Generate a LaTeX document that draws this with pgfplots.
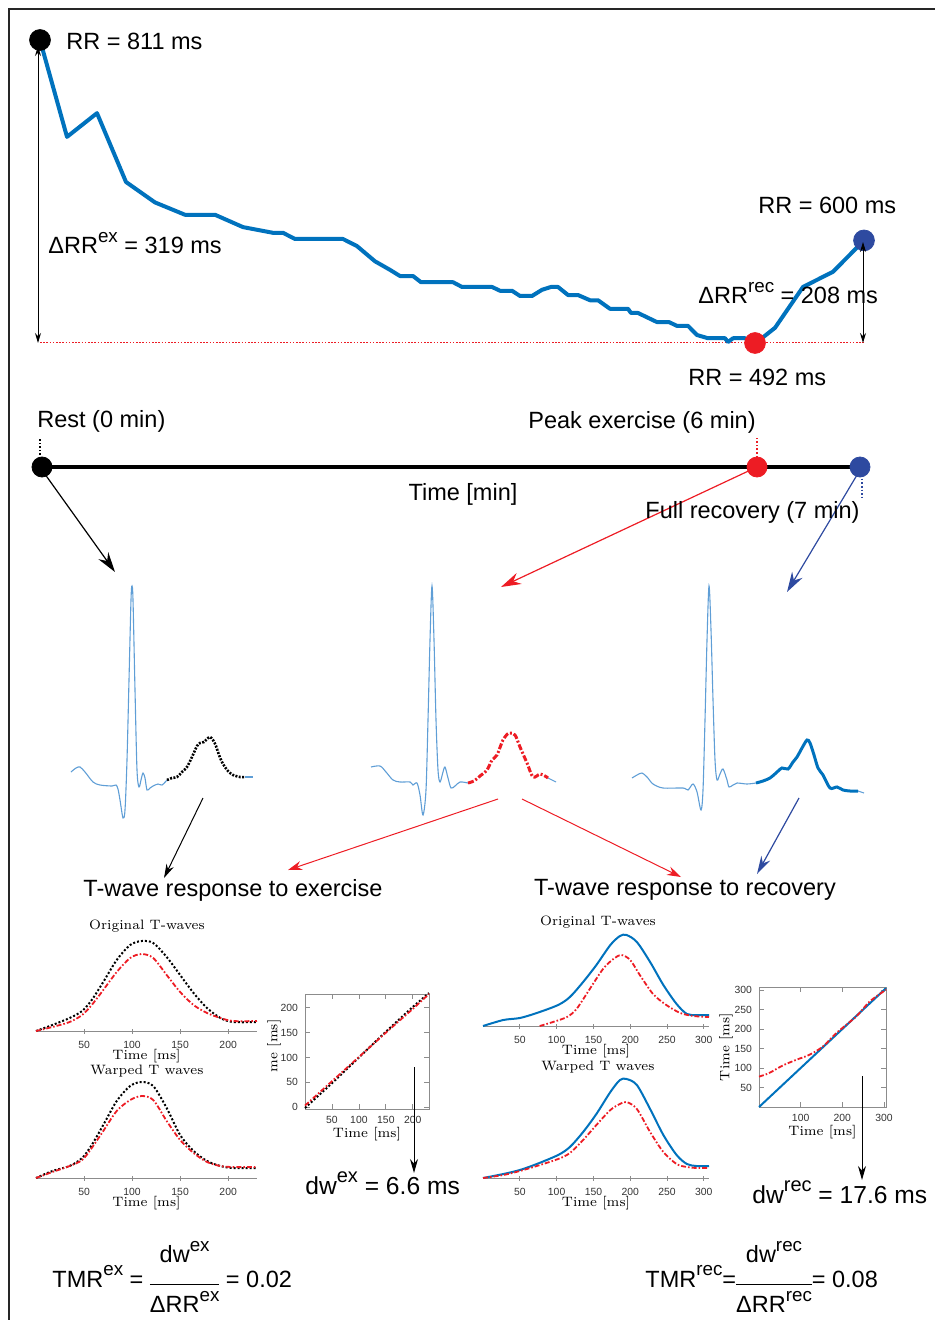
\documentclass[border=0pt]{standalone}
\usepackage{fontspec}
\newfontfamily\arial{Liberation Sans}
\usepackage{pgfplots}
\pgfplotsset{compat=1.18}
\usetikzlibrary{arrows.meta}
\definecolor{mblue}{HTML}{0072BD}
\definecolor{ecgblue}{RGB}{95,158,214}
\definecolor{mred}{RGB}{237,28,36}
\definecolor{dblue}{RGB}{46,74,160}
\definecolor{axgray}{RGB}{140,140,140}
\newcommand\lab{\arial\fontsize{11.75}{14}\selectfont}
\newcommand\tk{\arial\fontsize{5.2}{6}\selectfont}
\newcommand\sr{\fontsize{6.8}{8}\selectfont}
\newcommand\supa[1]{\raisebox{0.48em}{\fontsize{9.4}{11}\selectfont #1}}
\newcommand\supb[1]{\raisebox{0.48em}{\fontsize{10}{12}\selectfont #1}}

\pgfplotsset{
  ecg/.style={scale only axis,hide axis,clip=false,width=120pt,height=120pt,
    xmin=-80,xmax=160,ymin=-20,ymax=220,anchor=south west},
  common/.style={scale only axis,anchor=south west,clip=false,
    axis line style={axgray},tick style={axgray,line width=0.4pt},tick align=inside,
    major tick length=2.5pt,
    ticklabel style={font=\tk,text=black!80},
    xticklabel style={anchor=center,yshift=-5.5pt},
    /pgf/number format/assume math mode=true,
    xlabel={Time [ms]},
    xlabel style={font=\sr,at={(axis description cs:0.5,0)},anchor=center,yshift=-12.5pt}},
  tw/.style={common,height=50pt,ymin=0,ymax=1,
    axis x line=bottom,axis y line=none,x axis line style={-}},
  wf/.style={common,ylabel style={font=\sr,anchor=center}},
  blk/.style={black,line width=1pt,densely dotted},
  rdd/.style={mred,line width=0.9pt,dash pattern=on 2.5pt off 1pt on 0.8pt off 1pt},
  blu/.style={mblue,line width=1pt},
}
\tikzset{lbl/.style={font=\lab,inner sep=0pt}}

\begin{document}
\begin{tikzpicture}[x=0.5pt,y=-0.5pt]
\path[use as bounding box] (0,0) rectangle (935,1320);
\draw[line width=1pt,black!85] (9,1320) -- (9,9) -- (935,9);
% anchor points of the axes (south west corners, picture pixels)
\coordinate (rr) at (40,343);
\coordinate (tl) at (40,497);
\coordinate (e1) at (52,820);
\coordinate (e2) at (352,820);
\coordinate (e3) at (629,820);
\coordinate (xo) at (36,1031);
\coordinate (xw) at (36,1178);
\coordinate (xf) at (305,1109);
\coordinate (ro) at (483,1026);
\coordinate (rw) at (483,1178);
\coordinate (rf) at (759,1107);

% ---------------- RR curve ----------------
\begin{axis}[scale only axis,hide axis,clip=false,anchor=south west,at={(rr)},
  width=412pt,height=151.5pt,xmin=0,xmax=824,ymin=492,ymax=811]
\addplot[mred,line width=0.5pt,dash pattern=on 0.8pt off 0.8pt] coordinates {(0,492)(825,492)};
\addplot[mblue,line width=2pt,line join=round] coordinates {
(0,811)(27,709)(57,734)(86,661.5)(115,640)(145,627)(175,627)(203,614)(233,608)
(243,608)(255,601.5)(303,601.5)(317,594)(335,578)(350,569)(360,562.5)(373,562.5)
(381,556)(413,556)(422,551)(452,551)(460,547)(472,547)(480,541.5)(492,541.5)
(502,548)(511,551)(518,551)(528,542.5)(538,542.5)(550,537)(558,537)(570,528)
(588,528)(591,523.6)(598,523.6)(617,514)(629,514)(637,510)(648,510)(657,500.4)
(668,497)(685,497)(688,493)(693,497)(705,497)(715,492)(723,498)(735,508)
(763,551)(793,567)(824,600)};
\addplot[only marks,mark=*,mark size=5.2pt,black] coordinates {(0,811)};
\addplot[only marks,mark=*,mark size=5.2pt,mred] coordinates {(715,492)};
\addplot[only marks,mark=*,mark size=5.2pt,dblue] coordinates {(824,600)};
\end{axis}
\draw[black,line width=0.5pt,{Stealth[length=5pt,width=3pt]}-{Stealth[length=5pt,width=3pt]}] (38,46) -- (38,343);
\draw[black,line width=0.5pt,{Stealth[length=5pt,width=3pt]}-{Stealth[length=5pt,width=3pt]}] (863,242) -- (863,343);
\node[anchor=west,lbl] at (66,41) {RR = 811 ms};
\node[anchor=west,lbl] at (48,243) {ΔRR\supa{ex} = 319 ms};
\node[anchor=west,lbl] at (758,205) {RR = 600 ms};
\node[anchor=west,lbl] at (698,293) {ΔRR\supa{rec} = 208 ms};
\node[anchor=west,lbl] at (688,377) {RR = 492 ms};

% ---------------- timeline ----------------
\draw[black,line width=0.6pt,-{Stealth[length=10pt,width=6pt]}] (42,470) -- (115,572);
\draw[mred,line width=0.6pt,-{Stealth[length=10pt,width=6pt]}] (757,467) -- (501,587);
\draw[dblue,line width=0.6pt,-{Stealth[length=10pt,width=6pt]}] (860,470) -- (787,592);
\begin{axis}[scale only axis,hide axis,clip=false,anchor=south west,at={(tl)},
  width=412pt,height=30pt,xmin=0,xmax=824,ymin=-1,ymax=1]
\addplot[black,line width=2pt] coordinates {(2,0)(820,0)};
\addplot[black,densely dotted,line width=0.8pt] coordinates {(0,0.4)(0,1)};
\addplot[mred,densely dotted,line width=0.8pt] coordinates {(717,0.33)(717,1)};
\addplot[dblue,densely dotted,line width=0.8pt] coordinates {(822,-0.27)(822,-1.1)};
\addplot[only marks,mark=*,mark size=5pt,black] coordinates {(2,0)};
\addplot[only marks,mark=*,mark size=5pt,mred] coordinates {(717,0)};
\addplot[only marks,mark=*,mark size=5pt,dblue] coordinates {(820,0)};
\end{axis}
\node[anchor=west,lbl] at (37,421) {Rest (0 min)};
\node[anchor=west,lbl] at (528,422) {Peak exercise (6 min)};
\node[lbl] at (463,494) {Time [min]};
\node[anchor=west,lbl] at (645,512) {Full recovery (7 min)};

% ---------------- ECG beats ----------------
\begin{axis}[ecg,at={(e1)}]
\addplot[ecgblue,line width=0.55pt,smooth] coordinates {(-61,28)(-56,32)(-52,33)(-47,28)(-39,18)(-32,15)(-20,14)(-16,15)(-14,11)(-12,0)(-9,-18)(-7,-10)(-5,40)(-3,120)(-1,200)(0,214)(1,200)(3,110)(5,30)(7,13)(9,20)(11,27)(13,22)(15,10)(18,12)(21,14)(26,16)(30,15)(35,20)};
\addplot[ecgblue,line width=0.55pt] coordinates {(113,23)(121,23)};
\addplot[black,line width=1.3pt,dash pattern=on 1pt off 0.7pt,smooth] coordinates {(35,20)(40,22)(45,23)(50,28)(55,33)(60,43)(65,54)(68,57)(72,58)(75,61)(78,63)(81,60)(84,54)(87,45)(91,36)(96,29)(101,25)(108,23)(113,23)};
\end{axis}
\begin{axis}[ecg,at={(e2)}]
\addplot[ecgblue,line width=0.55pt,smooth] coordinates {(-61,33)(-52,34)(-46,28)(-39,20)(-32,18)(-22,18)(-19,15)(-15,17)(-12,5)(-9,-15)(-6,10)(-4,80)(-2,160)(0,214)(2,160)(4,80)(6,30)(8,18)(11,28)(13,33)(16,22)(19,12)(23,14)(28,18)(36,17)};
\addplot[ecgblue,line width=0.55pt] coordinates {(116,22)(124,18)};
\addplot[mred,line width=1.5pt,dash pattern=on 3pt off 1pt on 1pt off 1pt,smooth] coordinates {(36,17)(42,19)(48,24)(55,30)(60,40)(65,45)(71,60)(77,67)(83,65)(88,53)(95,37)(101,23)(108,26)(113,24)(116,22)};
\end{axis}
\begin{axis}[ecg,at={(e3)}]
\addplot[ecgblue,line width=0.55pt,smooth] coordinates {(-77,22)(-72,25)(-67,27)(-62,23)(-56,16)(-46,12)(-26,12)(-21,10)(-16,16)(-12,8)(-8,-10)(-6,10)(-4,80)(-2,160)(0,214)(2,170)(4,100)(6,40)(8,20)(11,26)(14,31)(18,20)(20,13)(24,15)(28,17)(38,16)(47,17)};
\addplot[ecgblue,line width=0.55pt] coordinates {(149,9)(155,7)};
\addplot[mblue,line width=1.5pt,smooth] coordinates {(47,17)(54,19)(61,22)(67,27)(73,32)(79,31)(84,38)(88,43)(93,52)(98,60)(101,57)(105,45)(109,32)(114,25)(121,12)(128,13)(134,10)(141,9)(149,9)};
\end{axis}

\draw[black,line width=0.5pt,-{Stealth[length=7pt,width=4pt]}] (203,798) -- (164,878);
\draw[mred,line width=0.5pt,-{Stealth[length=7pt,width=4.5pt]}] (498,799) -- (288,870);
\draw[mred,line width=0.5pt,-{Stealth[length=7pt,width=4.5pt]}] (522,799) -- (681,877);
\draw[dblue,line width=0.6pt,-{Stealth[length=9pt,width=5pt]}] (799,798) -- (757,874);
\node[lbl] at (233,890) {T-wave response to exercise};
\node[lbl] at (685,890) {T-wave response to recovery};

% ---------------- exercise panels ----------------
\node[font=\sr] at (147,926) {Original T-waves};
\node[font=\sr] at (147,1071) {Warped T waves};
\begin{axis}[tw,at={(xo)},width=110.5pt,xmin=0,xmax=230,xtick={50,100,150,200}]
\addplot[blk,smooth] coordinates {(0,0)(17,0.06)(35,0.13)(48,0.20)(58,0.31)(70,0.49)(84,0.71)(98,0.86)(110,0.90)(122,0.88)(136,0.74)(150,0.56)(164,0.38)(178,0.23)(192,0.13)(205,0.09)(230,0.09)};
\addplot[rdd,smooth] coordinates {(0,0)(17,0.04)(35,0.09)(48,0.16)(58,0.26)(70,0.41)(84,0.59)(98,0.73)(110,0.77)(122,0.73)(136,0.56)(150,0.39)(164,0.26)(178,0.18)(192,0.13)(205,0.10)(230,0.10)};
\end{axis}
\begin{axis}[tw,at={(xw)},width=110.5pt,xmin=0,xmax=230,xtick={50,100,150,200}]
\addplot[blk,smooth] coordinates {(0,0)(17,0.07)(35,0.12)(48,0.20)(58,0.33)(70,0.53)(84,0.77)(98,0.92)(110,0.96)(122,0.92)(136,0.70)(150,0.43)(164,0.27)(178,0.17)(192,0.12)(205,0.10)(230,0.10)};
\addplot[rdd,smooth] coordinates {(0,0)(17,0.06)(35,0.12)(48,0.18)(58,0.30)(70,0.47)(84,0.67)(98,0.78)(110,0.82)(122,0.78)(136,0.57)(150,0.38)(164,0.25)(178,0.16)(192,0.12)(205,0.11)(230,0.11)};
\end{axis}
\begin{axis}[wf,at={(xf)},width=62pt,height=57.5pt,xmin=0,xmax=230,ymin=-4,ymax=228,
  xtick={50,100,150,200},ytick={0,50,100,150,200},
  ylabel={me [ms]},ylabel style={at={(axis description cs:-0.25,0.55)}}]
\addplot[blk] coordinates {(0,-2)(50,48)(100,100)(150,152)(200,202)(230,230)};
\addplot[rdd] coordinates {(0,3)(50,52)(100,101)(150,150)(200,198)(230,228)};
\end{axis}
\draw[black,line width=0.5pt,-{Stealth[length=7pt,width=4pt]}] (414,1067) -- (414,1173);
\node[anchor=west,inner sep=0pt,font=\arial\fontsize{12.3}{15}\selectfont] at (305,1183) {dw\supb{ex} = 6.6 ms};

% ---------------- recovery panels ----------------
\node[font=\sr] at (598,922) {Original T-waves};
\node[font=\sr] at (598,1067) {Warped T waves};
\begin{axis}[tw,at={(ro)},width=113pt,xmin=0,xmax=307,xtick={50,100,150,200,250,300}]
\addplot[blu,smooth] coordinates {(0,0)(27.6,0.06)(50,0.08)(73,0.13)(102,0.21)(118,0.29)(136,0.44)(154,0.61)(173,0.81)(186,0.90)(195,0.91)(209,0.84)(227,0.64)(245,0.41)(263,0.22)(277,0.12)(290,0.11)(307,0.11)};
\addplot[rdd,smooth] coordinates {(77,0)(95,0.04)(114,0.09)(127,0.17)(145,0.37)(163,0.57)(177,0.67)(188,0.71)(200,0.66)(213,0.51)(231,0.32)(249,0.21)(268,0.13)(286,0.10)(307,0.09)};
\end{axis}
\begin{axis}[tw,at={(rw)},width=113pt,xmin=0,xmax=307,xtick={50,100,150,200,250,300}]
\addplot[blu,smooth] coordinates {(0,0)(27.6,0.04)(50,0.08)(73,0.14)(102,0.23)(118,0.31)(136,0.46)(154,0.64)(173,0.86)(186,0.98)(195,0.99)(209,0.93)(227,0.69)(245,0.43)(263,0.23)(277,0.14)(290,0.12)(307,0.12)};
\addplot[rdd,smooth] coordinates {(0,0)(27.6,0.03)(50,0.07)(73,0.12)(102,0.19)(118,0.25)(136,0.38)(154,0.53)(173,0.68)(186,0.74)(195,0.76)(209,0.69)(227,0.46)(245,0.26)(263,0.14)(277,0.11)(290,0.10)(307,0.10)};
\end{axis}
\begin{axis}[wf,at={(rf)},width=63.5pt,height=60pt,xmin=0,xmax=305,ymin=0,ymax=308,
  xtick={100,200,300},ytick={50,100,150,200,250,300},
  ylabel={Time [ms]},ylabel style={at={(axis description cs:-0.26,0.5)}}]
\addplot[blu] coordinates {(0,0)(305,305)};
\addplot[rdd,smooth] coordinates {(0,78)(24,87)(56,106)(89,121)(121,134)(153,155)(186,190)(234,233)(266,271)(305,301)};
\end{axis}
\draw[black,line width=0.5pt,-{Stealth[length=7pt,width=4pt]}] (862,1076) -- (862,1180);
\node[anchor=west,inner sep=0pt,font=\arial\fontsize{12.3}{15}\selectfont] at (752,1192) {dw\supb{rec} = 17.6 ms};

% ---------------- formulas ----------------
\node[anchor=west,lbl] at (52,1281) {TMR\supa{ex} = \begin{tabular}{@{}c@{}}dw\supa{ex}\rule[-10.5pt]{0pt}{0pt}\\\hline\rule{0pt}{14pt}ΔRR\supa{ex}\end{tabular} = 0.02};
\node[anchor=west,lbl] at (645,1281) {TMR\supa{rec}=\begin{tabular}{@{}c@{}}dw\supa{rec}\rule[-10.5pt]{0pt}{0pt}\\\hline\rule{0pt}{14pt}ΔRR\supa{rec}\end{tabular}= 0.08};
\end{tikzpicture}
\end{document}
